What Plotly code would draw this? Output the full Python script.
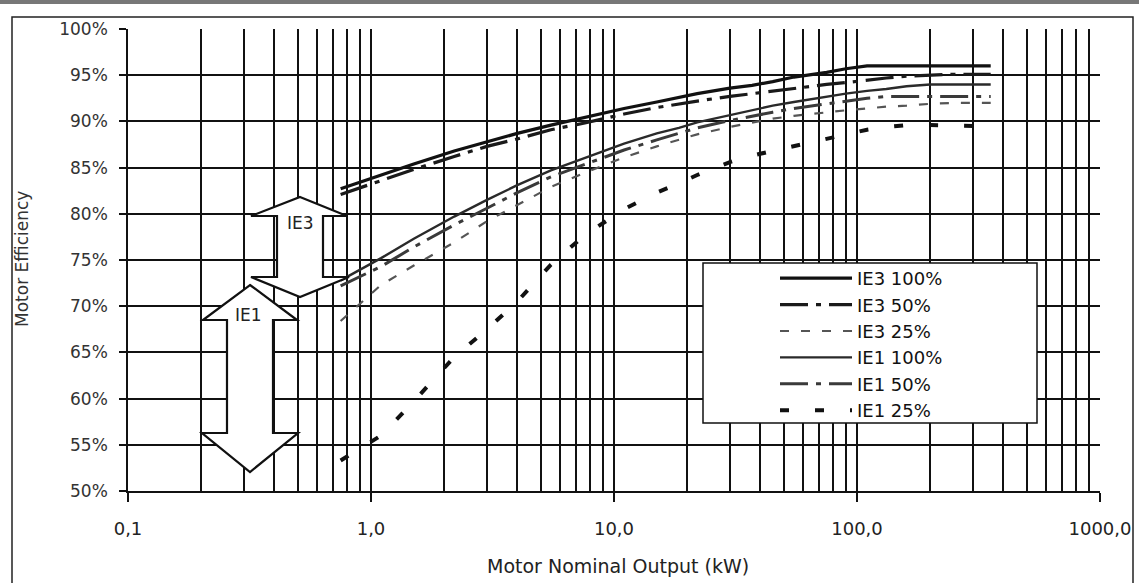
import math
import plotly.graph_objects as go

# ---------------- data ----------------
kw = [0.75, 1.1, 1.5, 2.2, 3, 4, 5.5, 7.5, 11, 15, 18.5, 22, 30, 37, 45, 55,
      75, 90, 110, 132, 160, 200, 250, 315, 355]

ie3_100 = [82.7, 84.2, 85.4, 86.8, 87.8, 88.7, 89.6, 90.4, 91.4, 92.1, 92.6, 93.0,
           93.6, 93.9, 94.3, 94.8, 95.3, 95.7, 96.0, 96.0, 96.0, 96.0, 96.0, 96.0, 96.0]
ie3_50 = [82.1, 83.6, 84.8, 86.2, 87.3, 88.1, 89.1, 89.8, 90.8, 91.5, 91.9, 92.2,
          92.7, 93.0, 93.3, 93.6, 94.0, 94.2, 94.5, 94.7, 94.9, 95.0, 95.1, 95.1, 95.1]
ie3_25 = [68.4, 72.3, 74.4, 76.9, 79.2, 81.0, 82.9, 84.4, 86.1, 87.3, 88.0, 88.6,
          89.4, 89.9, 90.3, 90.6, 91.0, 91.2, 91.4, 91.6, 91.7, 91.9, 92.0, 92.0, 92.0]
ie1_100 = [72.8, 75.2, 77.3, 79.7, 81.5, 83.1, 84.7, 86.0, 87.6, 88.7, 89.3, 89.9,
           90.7, 91.2, 91.7, 92.1, 92.7, 93.0, 93.3, 93.5, 93.8, 94.0, 94.0, 94.0, 94.0]
ie1_50 = [72.2, 74.3, 76.4, 78.8, 80.6, 82.3, 84.0, 85.3, 86.9, 88.0, 88.7, 89.3,
          90.1, 90.6, 91.0, 91.4, 91.9, 92.2, 92.5, 92.7, 92.7, 92.7, 92.7, 92.7, 92.7]
ie1_25 = [53.3, 56.0, 59.7, 64.5, 67.5, 70.5, 74.5, 77.6, 80.5, 82.3, 83.3, 84.2,
          85.6, 86.3, 86.8, 87.3, 88.1, 88.6, 89.1, 89.4, 89.6, 89.6, 89.5, 89.5, 89.5]

series_names = ["IE3 100%", "IE3 50%", "IE3 25%", "IE1 100%", "IE1 50%", "IE1 25%"]
series_values = [ie3_100, ie3_50, ie3_25, ie1_100, ie1_50, ie1_25]

x_tickvals = [0.1, 1, 10, 100, 1000]
x_ticktext = ["0,1", "1,0", "10,0", "100,0", "1000,0"]
x_minor = [m * 10 ** e for e in range(-1, 3) for m in range(2, 10)]
y_tickvals = [50, 55, 60, 65, 70, 75, 80, 85, 90, 95, 100]
y_ticktext = [f"{v}%" for v in y_tickvals]

# ---------------- styles ----------------
styles = [
    dict(color="#111111", width=3.2, dash="solid"),
    dict(color="#1a1a1a", width=3.2, dash="28px,8px,5px,8px"),
    dict(color="#555555", width=2.2, dash="9px,12px"),
    dict(color="#2a2a2a", width=2.4, dash="solid"),
    dict(color="#3a3a3a", width=3.0, dash="28px,8px,5px,8px"),
    dict(color="#111111", width=4.0, dash="9px,26px"),
]

W, H = 1139, 583
L, R, T, B = 128, 1100, 29, 491


def px(x, y):
    """pixel position in the page -> paper coordinates"""
    return (x - L) / (R - L), (B - y) / (B - T)


def path(points):
    s = ""
    for i, (x, y) in enumerate(points):
        a, b = px(x, y)
        s += ("M" if i == 0 else "L") + f"{a:.5f},{b:.5f} "
    return s + "Z"


fig = go.Figure()
for name, vals, st in zip(series_names, series_values, styles):
    fig.add_trace(go.Scatter(
        x=kw, y=vals, mode="lines", name=name, legendgroup=name,
        line=dict(color=st["color"], width=st["width"], dash=st["dash"]),
    ))

FONT = "DejaVu Sans"

shapes = []
# photo edge at the very top
shapes.append(dict(type="line", xref="paper", yref="paper", x0=px(0, 2)[0], x1=px(1139, 2)[0],
                   y0=px(0, 2)[1], y1=px(0, 2)[1], line=dict(color="#777", width=4), layer="below"))
# outer chart frame
fx0, fy1 = px(12, 17)
fx1, fy0 = px(1133, 600)
shapes.append(dict(type="rect", xref="paper", yref="paper", x0=fx0, x1=fx1, y0=fy0, y1=fy1,
                   line=dict(color="#222", width=1.5), layer="below"))
# legend box
lx0, ly1 = px(703, 263)
lx1, ly0 = px(1037, 423)
shapes.append(dict(type="rect", xref="paper", yref="paper", x0=lx0, x1=lx1, y0=ly0, y1=ly1,
                   fillcolor="white", line=dict(color="#111", width=1.5), layer="above"))
# IE3 block arrow
ie3_arrow = [(300, 197), (347, 216), (323, 216), (323, 277), (349, 277), (300, 297),
             (251, 277), (277, 277), (277, 216), (251, 216)]
# IE1 block arrow
ie1_arrow = [(250, 285), (297, 320), (273, 320), (273, 433), (298, 433), (250, 472),
             (202, 433), (227, 433), (227, 320), (203, 320)]
for arr in (ie3_arrow, ie1_arrow):
    shapes.append(dict(type="path", xref="paper", yref="paper", path=path(arr),
                       fillcolor="white", line=dict(color="#111", width=2.2), layer="above"))

ann = []


def label(x, y, text, size, color="#222", angle=0):
    a, b = px(x, y)
    ann.append(dict(x=a, y=b, xref="paper", yref="paper", text=text, showarrow=False,
                    xanchor="center", yanchor="middle", textangle=angle,
                    font=dict(family=FONT, size=size, color=color)))


label(300, 223, "IE3", 17)
label(248, 315, "IE1", 17)
label(618, 566, "Motor Nominal Output (kW)", 19)
label(22, 259, "Motor Efficiency", 17, "#333", -90)

lgx, lgy = px(775, 260)

fig.update_layout(
    width=W, height=H,
    margin=dict(l=L, r=W - R, t=T, b=H - B, autoexpand=False),
    paper_bgcolor="white", plot_bgcolor="white",
    font=dict(family=FONT, color="#222"),
    shapes=shapes, annotations=ann,
    showlegend=True,
    legend=dict(x=lgx, y=lgy, xanchor="left", yanchor="top", bgcolor="rgba(0,0,0,0)",
                borderwidth=0, font=dict(family=FONT, size=18, color="#111"),
                itemwidth=72, tracegroupgap=0, traceorder="normal"),
    xaxis=dict(type="log", range=[-1, 3], tickvals=x_tickvals, ticktext=x_ticktext,
               automargin=False,
               showgrid=True, gridcolor="#111", gridwidth=1.6,
               ticks="outside", ticklen=9, tickwidth=1.5, tickcolor="#111",
               showline=True, linecolor="#111", linewidth=1.6,
               tickfont=dict(family=FONT, size=18, color="#222"), ticklabelstandoff=12,
               minor=dict(tickvals=x_minor, showgrid=True, gridcolor="#111", gridwidth=1.6, ticks=""),
               zeroline=False, mirror=False),
    yaxis=dict(range=[50, 100], tickvals=y_tickvals, ticktext=y_ticktext,
               automargin=False,
               showgrid=True, gridcolor="#111", gridwidth=1.6,
               ticks="outside", ticklen=7, tickwidth=1.5, tickcolor="#111",
               showline=True, linecolor="#111", linewidth=1.6,
               tickfont=dict(family=FONT, size=17, color="#333"), ticklabelstandoff=8,
               zeroline=False),
)

fig.write_html("out.html", config={"displayModeBar": False},
               post_script="document.body.style.margin='0px';")
